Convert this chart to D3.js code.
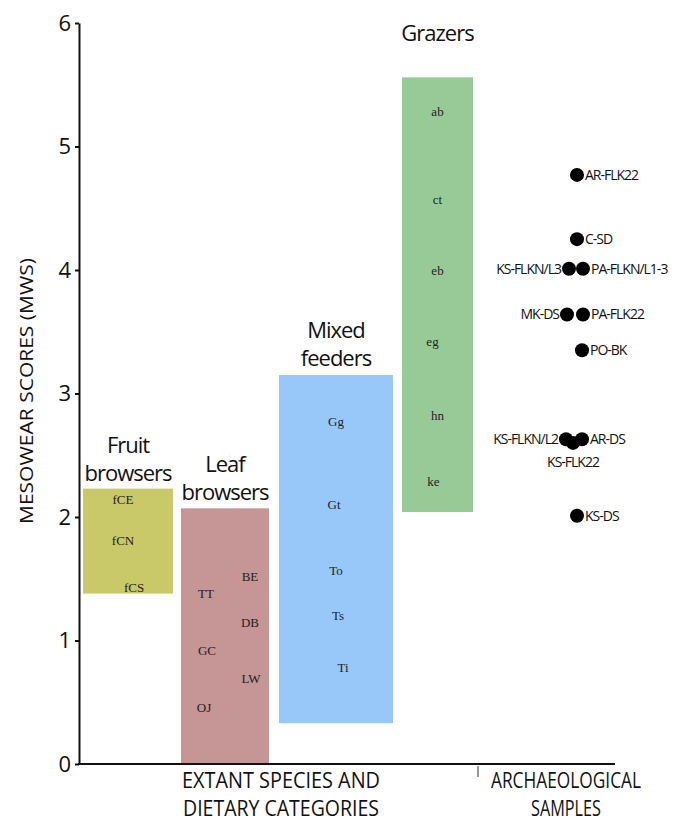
<!DOCTYPE html>
<html>
<head>
<meta charset="utf-8">
<script src="https://cdn.jsdelivr.net/npm/d3@7"></script>
<style>
  body { margin: 0; background: #fff; }
  svg { display: block; }
</style>
</head>
<body>
<div id="chart"></div>
<script>
// dietary categories: name lines, MWS range of the box
const categoryNames = [["Fruit", "browsers"], ["Leaf", "browsers"], ["Mixed", "feeders"], ["Grazers"]];
const categoryLow = [1.38, 0, 0.33, 2.04];
const categoryHigh = [2.23, 2.07, 3.15, 5.56];
const categoryColors = ["#c9c96a", "#c69595", "#98c8fa", "#98ca98"];

// extant species mean scores, per category
const fruitSpecies = ["fCE", "fCN", "fCS"];
const fruitScores = [2.14, 1.81, 1.43];
const leafSpecies = ["BE", "TT", "DB", "GC", "LW", "OJ"];
const leafScores = [1.52, 1.38, 1.15, 0.92, 0.69, 0.46];
const mixedSpecies = ["Gg", "Gt", "To", "Ts", "Ti"];
const mixedScores = [2.77, 2.10, 1.57, 1.20, 0.78];
const grazerSpecies = ["ab", "ct", "eb", "eg", "hn", "ke"];
const grazerScores = [5.28, 4.57, 4.00, 3.42, 2.82, 2.29];

// archaeological samples
const sampleNames = ["AR-FLK22", "C-SD", "KS-FLKN/L3", "PA-FLKN/L1-3", "MK-DS", "PA-FLK22", "PO-BK", "KS-FLKN/L2", "AR-DS", "KS-FLK22", "KS-DS"];
const sampleScores = [4.77, 4.25, 4.01, 4.01, 3.64, 3.64, 3.35, 2.63, 2.63, 2.60, 2.01];

const yTicks = [0, 1, 2, 3, 4, 5, 6];

// ---- layout (not data) ----
const W = 690, H = 824;
const boxEdges = [[83, 173], [181, 269], [279, 393], [402, 473]];
const titleTop = [445, 464, 330, 33];
const speciesNudge = [[-5, -5, 6], [25, -19, 25, -18, 26, -21], [0, -2, 0, 2, 7], [0, 0, 0, -5, 0, -4]];
const sampleX = 577;
const sampleNudge = [0, 0, -8, 6, -10, 6, 5, -11, 5, -4, 0];
const sampleSide = ["r", "r", "l", "r", "l", "r", "r", "l", "r", "b", "r"];
const dotR = 7;

const svg = d3.select("#chart").append("svg")
  .attr("width", W).attr("height", H);

const y = d3.scaleLinear().domain([0, 6]).range([764, 23]);
const xAxisEnd = 615;

// boxes
const species = [fruitSpecies, leafSpecies, mixedSpecies, grazerSpecies];
const scores = [fruitScores, leafScores, mixedScores, grazerScores];

categoryNames.forEach((name, i) => {
  const [x0, x1] = boxEdges[i];
  const cx = (x0 + x1) / 2;
  svg.append("rect")
    .attr("x", x0)
    .attr("y", y(categoryHigh[i]))
    .attr("width", x1 - x0)
    .attr("height", y(categoryLow[i]) - y(categoryHigh[i]))
    .attr("fill", categoryColors[i]);

  const title = svg.append("text")
    .attr("text-anchor", "middle")
    .style("font-family", "'Open Sans', sans-serif")
    .style("font-size", "22px")
    .style("letter-spacing", "-1px")
    .attr("fill", "#111");
  name.forEach((line, j) => {
    title.append("tspan")
      .attr("x", cx)
      .attr("y", titleTop[i] + 8 + j * 28)
      .text(line);
  });

  svg.append("g").selectAll("text")
    .data(species[i])
    .join("text")
    .attr("x", (d, j) => cx + speciesNudge[i][j])
    .attr("y", (d, j) => y(scores[i][j]))
    .attr("dy", "0.35em")
    .attr("text-anchor", "middle")
    .style("font-family", "'Liberation Serif', serif")
    .style("font-size", "13px")
    .attr("fill", "#222")
    .text(d => d);
});

// y axis
const yAxis = svg.append("g")
  .attr("transform", "translate(79,0)")
  .call(d3.axisLeft(y).tickValues(yTicks).tickFormat(d3.format("d")).tickSize(4).tickSizeOuter(0));
yAxis.select(".domain").attr("stroke", "#111").attr("stroke-width", 2);
yAxis.selectAll(".tick line").attr("stroke", "#111").attr("stroke-width", 2);
yAxis.selectAll(".tick text")
  .attr("x", -8)
  .style("font-family", "'Open Sans', sans-serif")
  .style("font-size", "22px")
  .attr("fill", "#111");

svg.append("text")
  .attr("transform", "translate(33,391) rotate(-90)")
  .attr("text-anchor", "middle")
  .style("font-family", "'Open Sans', sans-serif")
  .style("font-size", "19px")
  .attr("textLength", 266)
  .attr("lengthAdjust", "spacingAndGlyphs")
  .attr("fill", "#111")
  .text("MESOWEAR SCORES (MWS)");

// bottom baseline
svg.append("line")
  .attr("x1", 78).attr("x2", xAxisEnd)
  .attr("y1", y(0)).attr("y2", y(0))
  .attr("stroke", "#111").attr("stroke-width", 2);
svg.append("line")
  .attr("x1", 478).attr("x2", 478)
  .attr("y1", y(0) + 2).attr("y2", y(0) + 13)
  .attr("stroke", "#333").attr("stroke-width", 1);

const bottomLabels = [
  { x: 281, lines: ["EXTANT SPECIES AND", "DIETARY CATEGORIES"], len: [198, 196] },
  { x: 566, lines: ["ARCHAEOLOGICAL", "SAMPLES"], len: [150, 70] }
];
bottomLabels.forEach(b => {
  b.lines.forEach((line, j) => {
    svg.append("text")
      .attr("x", b.x)
      .attr("y", 788 + j * 28)
      .attr("text-anchor", "middle")
      .style("font-family", "'Open Sans', sans-serif")
      .style("font-size", "21px")
      .attr("textLength", b.len[j])
      .attr("lengthAdjust", "spacingAndGlyphs")
      .attr("fill", "#111")
      .text(line);
  });
});

// archaeological samples
const samples = sampleNames.map((n, i) => ({ name: n, score: sampleScores[i], dx: sampleNudge[i], side: sampleSide[i] }));
const sg = svg.append("g");
sg.selectAll("circle")
  .data(samples)
  .join("circle")
  .attr("cx", d => sampleX + d.dx)
  .attr("cy", d => y(d.score))
  .attr("r", dotR)
  .attr("fill", "#000");

sg.selectAll("text")
  .data(samples)
  .join("text")
  .attr("x", d => d.side === "r" ? sampleX + d.dx + dotR + 1 : d.side === "l" ? sampleX + d.dx - dotR - 1 : sampleX + d.dx)
  .attr("y", d => d.side === "b" ? y(d.score) + 19 : y(d.score))
  .attr("dy", "0.35em")
  .attr("text-anchor", d => d.side === "r" ? "start" : d.side === "l" ? "end" : "middle")
  .style("font-family", "'Open Sans', sans-serif")
  .style("font-size", "14px")
  .style("letter-spacing", "-1px")
  .attr("fill", "#111")
  .text(d => d.name);
</script>
</body>
</html>
